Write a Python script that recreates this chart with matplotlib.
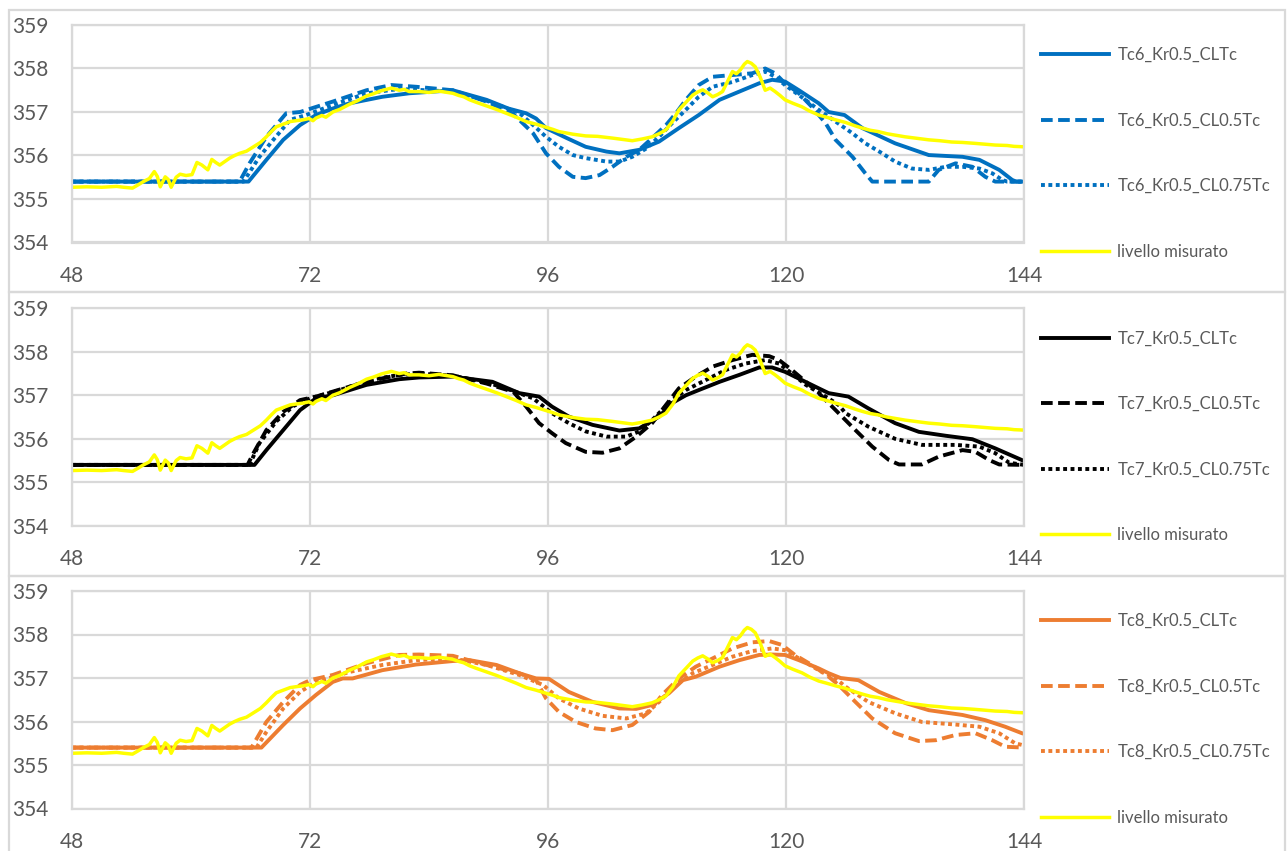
import matplotlib
matplotlib.use("Agg")
import matplotlib.pyplot as plt
from matplotlib.patches import Rectangle

plt.rcParams['font.family'] = ['Lato', 'DejaVu Sans']

# Colours
BLUE = "#0070C0"
BLACK = "#000000"
ORANGE = "#ED7D31"
YELLOW = "#FFFF00"
GRID = "#D9D9D9"
TEXT = "#595959"

# Measured level (same in every panel)
meas_x = [48.0, 49.5, 51.0, 52.5, 53.2, 54.1, 54.7, 55.2, 55.8, 56.3, 56.6, 56.9, 57.4, 57.7, 58.0,
          58.5, 58.9, 59.5, 60.1, 60.6, 61.1, 61.7, 62.1, 62.5, 62.9, 63.4, 63.9, 64.4, 64.9, 65.6,
          66.3, 67.0, 67.6, 68.1, 68.6, 69.3, 70.0, 70.6, 71.3, 71.9, 72.3, 72.6, 73.2, 73.6, 74.3,
          75.0, 75.5, 76.0, 76.8, 77.7, 78.4, 79.2, 80.2, 81.0, 81.5, 82.0, 83.0, 84.0, 85.0, 86.4,
          87.0, 87.5, 88.1, 88.8, 89.8, 90.8, 91.8, 92.8, 93.8, 94.8, 95.8, 96.5, 97.1, 98.5, 99.8,
          101.0, 102.5, 103.5, 104.5, 105.5, 106.5, 107.2, 107.9, 108.6, 109.2, 109.9, 110.6, 111.1,
          111.6, 112.1, 112.6, 113.1, 113.6, 114.1, 114.6, 115.0, 115.4, 115.8, 116.1, 116.5, 116.9,
          117.4, 117.9, 118.4, 118.9, 119.4, 119.9, 120.7, 121.6, 122.4, 123.3, 124.1, 125.0, 126.0,
          127.0, 127.7, 128.5, 129.3, 130.2, 131.0, 132.0, 133.0, 134.4, 135.5, 136.7, 137.8, 139.0,
          140.0, 141.1, 142.3, 143.0, 144.0]
meas_y = [355.27, 355.28, 355.27, 355.29, 355.27, 355.25, 355.33, 355.40, 355.47, 355.63, 355.52,
          355.28, 355.51, 355.45, 355.27, 355.50, 355.57, 355.54, 355.56, 355.84, 355.78, 355.67,
          355.91, 355.84, 355.78, 355.86, 355.94, 356.00, 356.05, 356.10, 356.20, 356.30, 356.43,
          356.55, 356.66, 356.72, 356.78, 356.80, 356.82, 356.85, 356.80, 356.86, 356.92, 356.88,
          357.00, 357.06, 357.12, 357.18, 357.26, 357.37, 357.42, 357.49, 357.55, 357.50, 357.52,
          357.47, 357.47, 357.45, 357.48, 357.43, 357.38, 357.35, 357.28, 357.22, 357.14, 357.06,
          356.97, 356.88, 356.78, 356.72, 356.65, 356.60, 356.55, 356.49, 356.45, 356.44, 356.40,
          356.37, 356.34, 356.38, 356.43, 356.50, 356.59, 356.80, 357.05, 357.22, 357.39, 357.46,
          357.51, 357.44, 357.35, 357.40, 357.47, 357.70, 357.93, 357.88, 357.97, 358.10, 358.16,
          358.12, 358.04, 357.80, 357.50, 357.55, 357.47, 357.38, 357.28, 357.20, 357.12, 357.02,
          356.93, 356.88, 356.82, 356.76, 356.68, 356.63, 356.58, 356.55, 356.50, 356.47, 356.43,
          356.40, 356.36, 356.34, 356.31, 356.30, 356.28, 356.26, 356.24, 356.23, 356.21, 356.20]

# Tc6 series
t6_cl_x = [48, 65.8, 67.6, 69.3, 71.0, 72.6, 74.3, 76.0, 79.3, 82.0, 86.4, 89.8, 92.0, 93.8, 94.8,
           95.8, 97.9, 99.8, 101.9, 103.2, 105.2, 107.2, 109.2, 111.2, 113.3, 115.3, 117.3, 118.6,
           119.9, 121.3, 123.3, 124.3, 125.9, 127.7, 131.0, 134.4, 137.8, 139.5, 141.5, 142.8, 143.2, 144]
t6_cl_y = [355.4, 355.4, 355.9, 356.36, 356.7, 356.93, 357.08, 357.2, 357.35, 357.43, 357.5, 357.28,
           357.08, 356.97, 356.85, 356.63, 356.4, 356.2, 356.09, 356.05, 356.13, 356.32, 356.63,
           356.93, 357.28, 357.47, 357.66, 357.74, 357.7, 357.5, 357.2, 357.0, 356.93, 356.63,
           356.28, 356.01, 355.97, 355.9, 355.67, 355.44, 355.4, 355.4]
t6_cl05_x = [48, 64.9, 65.9, 67.6, 68.6, 69.6, 71.0, 74.3, 77.7, 80.2, 82.7, 86.4, 89.8, 92.4, 93.1,
             94.5, 95.8, 97.1, 98.5, 99.8, 101.2, 102.5, 103.9, 105.2, 106.5, 107.9, 108.9, 109.9,
             111.2, 112.6, 114.6, 116.6, 117.9, 118.9, 119.9, 121.3, 122.6, 124.0, 125.0, 126.7,
             128.0, 128.7, 134.4, 135.4, 137.1, 138.8, 140.1, 141.1, 144]
t6_cl05_y = [355.4, 355.4, 355.82, 356.43, 356.7, 356.97, 357.0, 357.24, 357.5, 357.62, 357.58,
             357.5, 357.24, 356.97, 356.82, 356.51, 356.05, 355.74, 355.51, 355.48, 355.55, 355.74,
             355.97, 356.13, 356.4, 356.7, 356.97, 357.28, 357.62, 357.81, 357.85, 357.89, 358.0,
             357.89, 357.66, 357.43, 357.12, 356.74, 356.36, 355.97, 355.59, 355.4, 355.4, 355.67,
             355.82, 355.74, 355.51, 355.4, 355.4]
t6_cl075_x = [48, 65.3, 66.9, 68.3, 70.0, 71.6, 74.3, 77.7, 81.0, 86.4, 89.8, 93.1, 94.5, 95.8,
              97.1, 98.5, 99.8, 101.9, 103.2, 104.5, 105.9, 107.2, 108.5, 109.9, 111.2, 112.6,
              114.6, 116.6, 117.9, 118.9, 119.9, 121.3, 123.3, 125.0, 126.7, 128.0, 129.7, 131.0,
              132.7, 134.4, 136.1, 137.8, 139.5, 140.8, 141.8, 142.3, 144]
t6_cl075_y = [355.4, 355.4, 355.97, 356.36, 356.82, 356.93, 357.16, 357.43, 357.53, 357.47, 357.26,
              356.98, 356.7, 356.43, 356.2, 356.01, 355.94, 355.86, 355.86, 355.97, 356.16, 356.43,
              356.74, 357.05, 357.35, 357.58, 357.69, 357.85, 357.93, 357.81, 357.62, 357.39,
              357.05, 356.78, 356.51, 356.28, 356.05, 355.86, 355.7, 355.67, 355.74, 355.74, 355.7,
              355.59, 355.44, 355.4, 355.4]

# Tc7 series
t7_cl_x = [48, 66.4, 67.6, 69.3, 71.0, 72.6, 74.3, 77.7, 81.0, 83.0, 86.4, 90.4, 93.1, 95.1, 96.4,
           98.1, 100.5, 103.2, 105.2, 107.2, 108.5, 109.9, 111.2, 113.3, 115.3, 117.3, 118.6, 119.9,
           121.6, 123.3, 124.3, 126.3, 128.3, 131.0, 133.4, 136.1, 138.8, 141.1, 143.8, 144]
t7_cl_y = [355.4, 355.4, 355.74, 356.2, 356.66, 356.93, 357.0, 357.24, 357.37, 357.41, 357.43,
           357.31, 357.05, 356.97, 356.74, 356.51, 356.32, 356.19, 356.24, 356.51, 356.82, 357.0,
           357.12, 357.31, 357.47, 357.64, 357.64, 357.54, 357.35, 357.16, 357.05, 356.97, 356.7,
           356.36, 356.16, 356.07, 355.99, 355.78, 355.51, 355.49]
t7_cl05_x = [48, 65.7, 66.3, 67.6, 69.3, 71.0, 72.6, 76.0, 79.3, 81.7, 83.0, 86.4, 89.8, 92.5, 93.8,
             95.1, 96.4, 97.8, 99.8, 101.5, 103.2, 104.9, 106.5, 107.9, 109.2, 110.9, 112.6, 114.6,
             116.6, 118.3, 119.3, 120.6, 122.0, 123.3, 125.0, 127.0, 128.7, 130.4, 131.4, 133.7,
             135.4, 137.8, 139.1, 140.5, 141.5, 144]
t7_cl05_y = [355.4, 355.4, 355.67, 356.2, 356.62, 356.89, 356.97, 357.2, 357.39, 357.5, 357.52,
             357.46, 357.27, 357.08, 356.74, 356.36, 356.13, 355.9, 355.7, 355.68, 355.78, 356.05,
             356.36, 356.78, 357.16, 357.43, 357.66, 357.81, 357.93, 357.9, 357.81, 357.58, 357.31,
             357.05, 356.66, 356.2, 355.82, 355.51, 355.41, 355.41, 355.59, 355.74, 355.7, 355.51,
             355.41, 355.4]
t7_cl075_x = [48, 65.9, 66.9, 68.6, 70.3, 72.0, 75.0, 78.0, 81.0, 83.0, 86.4, 89.8, 92.5, 94.5,
              96.4, 98.1, 99.8, 101.9, 103.9, 105.2, 106.5, 108.5, 109.9, 111.9, 113.9, 115.9,
              117.9, 119.3, 120.6, 122.0, 124.0, 125.3, 126.0, 128.3, 131.0, 133.7, 137.1, 139.5,
              141.1, 142.5, 144]
t7_cl075_y = [355.4, 355.4, 355.9, 356.4, 356.75, 356.93, 357.12, 357.35, 357.47, 357.5, 357.45,
              357.3, 357.1, 356.93, 356.59, 356.36, 356.17, 356.05, 356.05, 356.17, 356.43, 356.89,
              357.12, 357.35, 357.58, 357.73, 357.81, 357.73, 357.5, 357.24, 356.97, 356.78,
              356.59, 356.28, 356.0, 355.86, 355.86, 355.82, 355.67, 355.45, 355.4]

# Tc8 series
t8_cl_x = [48, 67.1, 69.3, 71.0, 72.6, 74.3, 75.3, 76.3, 79.3, 82.7, 86.4, 88.1, 90.8, 93.1, 94.8,
           96.1, 98.1, 100.5, 103.2, 104.9, 106.5, 108.2, 109.6, 110.9, 113.3, 115.3, 117.3, 118.6,
           119.9, 121.3, 123.3, 124.3, 125.5, 127.3, 129.4, 132.1, 134.4, 137.8, 140.1, 142.1, 143.8, 144]
t8_cl_y = [355.4, 355.4, 355.92, 356.3, 356.61, 356.91, 356.99, 356.99, 357.18, 357.31, 357.39,
           357.41, 357.3, 357.11, 356.99, 356.98, 356.68, 356.45, 356.3, 356.29, 356.38, 356.65,
           356.95, 357.03, 357.26, 357.41, 357.53, 357.54, 357.53, 357.41, 357.22, 357.11, 357.0,
           356.95, 356.68, 356.42, 356.26, 356.15, 356.03, 355.88, 355.73, 355.72]
t8_cl05_x = [48, 66.1, 67.6, 69.3, 71.0, 72.0, 74.3, 77.7, 81.0, 83.0, 86.4, 89.8, 93.1, 94.8, 95.8,
             97.1, 98.8, 100.8, 102.5, 104.5, 106.2, 107.5, 109.2, 110.9, 112.6, 114.6, 116.6,
             118.3, 119.6, 120.9, 122.6, 124.3, 125.3, 127.0, 128.7, 131.0, 133.4, 135.1, 137.1,
             139.1, 140.8, 142.1, 144]
t8_cl05_y = [355.4, 355.4, 355.99, 356.45, 356.84, 356.95, 357.07, 357.34, 357.53, 357.54, 357.51,
             357.3, 357.11, 356.95, 356.53, 356.22, 355.99, 355.84, 355.8, 355.92, 356.22, 356.61,
             356.99, 357.26, 357.45, 357.68, 357.82, 357.85, 357.76, 357.53, 357.3, 357.03, 356.84,
             356.45, 356.07, 355.73, 355.55, 355.57, 355.69, 355.73, 355.57, 355.42, 355.4]
t8_cl075_x = [48, 66.6, 67.6, 69.3, 71.0, 72.6, 76.0, 79.3, 82.7, 86.4, 89.8, 93.1, 95.5, 97.1,
              99.1, 101.5, 103.9, 105.9, 107.2, 108.9, 110.6, 112.6, 114.6, 116.6, 118.6, 119.9,
              121.3, 123.3, 125.0, 126.0, 128.3, 131.0, 133.7, 137.1, 139.5, 141.5, 143.1, 144]
t8_cl075_y = [355.4, 355.4, 355.76, 356.3, 356.68, 356.91, 357.14, 357.3, 357.41, 357.45, 357.3,
              357.07, 356.84, 356.53, 356.3, 356.13, 356.07, 356.19, 356.45, 356.84, 357.11, 357.3,
              357.49, 357.62, 357.68, 357.64, 357.45, 357.18, 356.99, 356.8, 356.45, 356.19,
              355.99, 355.93, 355.88, 355.73, 355.5, 355.45]

x_ticks = [48, 72, 96, 120, 144]
y_ticks = [354, 355, 356, 357, 358, 359]
meas_label = "livello misurato"

panels = [
    ("Tc6", BLUE, (t6_cl_x, t6_cl_y), (t6_cl05_x, t6_cl05_y), (t6_cl075_x, t6_cl075_y)),
    ("Tc7", BLACK, (t7_cl_x, t7_cl_y), (t7_cl05_x, t7_cl05_y), (t7_cl075_x, t7_cl075_y)),
    ("Tc8", ORANGE, (t8_cl_x, t8_cl_y), (t8_cl05_x, t8_cl05_y), (t8_cl075_x, t8_cl075_y)),
]

W, H = 1287, 851
fig = plt.figure(figsize=(W / 100, H / 100), dpi=100)

# panel frames (pixel coordinates, top origin)
frames = [(9, 10, 292), (9, 292, 576), (9, 576, 862)]
for left, top, bottom in frames:
    fig.add_artist(Rectangle((left / W, 1 - bottom / H), (1285 - left) / W, (bottom - top) / H,
                             transform=fig.transFigure, fill=False, edgecolor=GRID, lw=1.6))

ax_tops = [25, 308.3, 591]
ax_h = 217.5
lw = 2.8
dash = (0, (3, 1.4))
dot = (0, (1, 0.9))

for (name, color, cl, cl05, cl075), top in zip(panels, ax_tops):
    ax = fig.add_axes([72 / W, 1 - (top + ax_h) / H, 952 / W, ax_h / H])
    ax.plot(cl[0], cl[1], color=color, lw=lw, label=f"{name}_Kr0.5_CLTc")
    ax.plot(cl05[0], cl05[1], color=color, lw=lw, linestyle=dash, label=f"{name}_Kr0.5_CL0.5Tc")
    ax.plot(cl075[0], cl075[1], color=color, lw=lw, linestyle=dot, label=f"{name}_Kr0.5_CL0.75Tc")
    ax.plot(meas_x, meas_y, color=YELLOW, lw=2.5, label=meas_label)

    ax.set_xlim(48, 144)
    ax.set_ylim(354, 359)
    ax.set_xticks(x_ticks)
    ax.set_yticks(y_ticks)
    ax.grid(True, color=GRID, lw=1.6)
    ax.set_axisbelow(True)
    for s in ax.spines.values():
        s.set_color(GRID)
        s.set_linewidth(1.6)
    ax.tick_params(length=0, labelsize=15, colors=TEXT)
    ax.tick_params(axis="y", pad=17)
    ax.tick_params(axis="x", pad=17)

    leg = ax.legend(loc="center left", bbox_to_anchor=(1.0176, 0.409), frameon=False,
                    fontsize=12, handlelength=4.1, handletextpad=0.5, labelspacing=2.97,
                    borderpad=0, borderaxespad=0)
    for t in leg.get_texts():
        t.set_color(TEXT)

fig.savefig("out.png", dpi=100)
